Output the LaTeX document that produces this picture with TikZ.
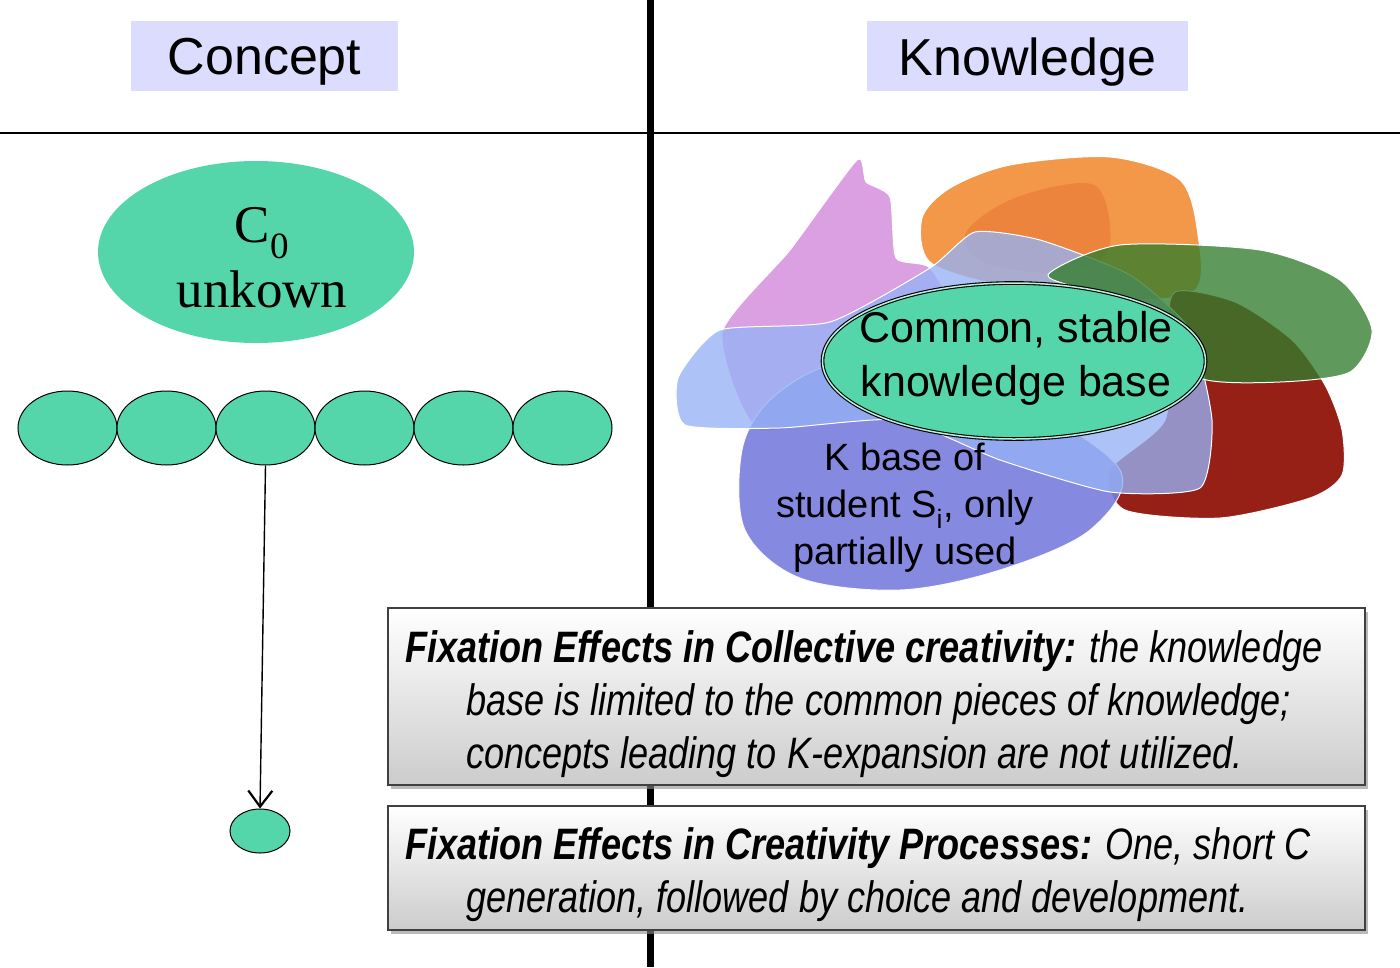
\documentclass[tikz,border=0pt]{standalone}
\usepackage{fontspec}
\setmainfont{Liberation Sans}
\newfontfamily\serifC{Liberation Serif}
\newfontfamily\narrowfont[FakeStretch=0.82]{Liberation Sans}
\usetikzlibrary{shapes.geometric,shadows,arrows.meta}
\definecolor{teal}{RGB}{85,214,170}
\definecolor{lav}{RGB}{220,220,255}
\definecolor{pinkb}{RGB}{218,160,225}
\definecolor{orangeb}{RGB}{242,152,72}
\definecolor{orangec}{RGB}{236,132,62}
\definecolor{blueb}{RGB}{150,178,245}
\definecolor{purpb}{RGB}{120,125,220}
\definecolor{greenb}{RGB}{50,125,45}
\definecolor{redb}{RGB}{150,32,22}
\tikzset{
  hdr/.style={fill=lav, minimum width=267pt, minimum height=70pt, inner sep=0pt},
  hdrtext/.style={inner sep=0pt, font=\fontsize{52}{60}\selectfont},
  cell/.style={ellipse, fill=teal, draw=black, line width=1pt, minimum width=99pt, minimum height=74pt, inner sep=0pt},
  blob/.style={draw=white, line width=1pt},
  fxbox/.style={draw=black!75, line width=1.2pt, top color=white, bottom color=black!20, inner sep=0pt,
    drop shadow={shadow xshift=3pt, shadow yshift=-4pt, fill=black!45, opacity=0.6}},
  fxtext/.style={align=left, inner sep=0pt, font=\narrowfont\itshape\fontsize{44}{53}\selectfont, anchor=north west}
}
\begin{document}
\begin{tikzpicture}[x=1pt,y=-1pt]
\useasboundingbox (0,0) rectangle (1400,967);
\fill[white] (0,0) rectangle (1400,967);
% dividers
\draw[line width=1.8pt] (0,133) -- (1400,133);
\draw[line width=7pt] (650,0) -- (650,967);
% headers
\node[hdr] (hc) at (264.5,56) {};
\node[hdrtext] (hct) at (264.5,62) {Concept};
\node[hdr, minimum width=321pt] (hk) at (1027.5,56) {};
\node[hdrtext] (hkt) at (1027.5,62) {Knowledge};
% concept side
\node[ellipse, fill=teal, minimum width=316pt, minimum height=182pt, inner sep=0pt] (c0) at (256,252) {};
\node[align=center, inner sep=0pt, font=\serifC\fontsize{53}{64}\selectfont] (c0t) at (262,258) {C\textsubscript{0}\\[1pt]unkown};
\foreach \i/\x in {1/67.5,2/166.5,3/265.5,4/364.5,5/463.5,6/562.5}{
  \node[cell] (e\i) at (\x,428) {};
}
\node[ellipse, fill=teal, draw=black, line width=1pt, minimum width=60pt, minimum height=44pt, inner sep=0pt] (last) at (260,831) {};
\draw[line width=1.4pt, -{Straight Barb[length=16pt,width=24pt,line width=2.2pt]}] (e3.south) -- (last.north);
% knowledge blobs
\fill[pinkb, blob] plot[smooth cycle, tension=0.35] coordinates {(857,160) (866,182) (890,197) (896,258) (930,268) (960,330) (900,400) (760,430) (722,333) (790,250)};
\fill[orangeb, blob] plot[smooth cycle, tension=0.5] coordinates {(922,218) (950,188) (1010,165) (1110,157) (1180,180) (1198,235) (1195,290) (1120,300) (1000,285) (930,262)};
\fill[orangec] plot[smooth cycle, tension=0.6] coordinates {(965,235) (1010,200) (1080,183) (1104,198) (1108,250) (1070,272) (990,265)};
\fill[redb, blob] plot[smooth cycle, tension=0.45] coordinates {(1175,292) (1235,302) (1292,340) (1325,385) (1342,430) (1342,475) (1310,498) (1220,518) (1125,510) (1110,470) (1165,420) (1168,340)};
\fill[purpb, blob, opacity=0.9] plot[smooth cycle, tension=0.55] coordinates {(742,450) (770,400) (830,365) (920,360) (1020,400) (1120,470) (1090,530) (1000,570) (900,590) (800,578) (745,530)};
\fill[blueb, blob, fill opacity=0.78] plot[smooth cycle, tension=0.35] coordinates {(678,378) (720,330) (830,322) (930,268) (975,232) (1040,240) (1130,275) (1190,330) (1212,420) (1200,488) (1110,492) (1000,460) (900,420) (780,428) (685,425)};
\fill[greenb, blob, fill opacity=0.78] plot[smooth cycle, tension=0.45] coordinates {(1048,275) (1120,245) (1260,250) (1340,280) (1372,330) (1350,372) (1280,382) (1200,378) (1160,330) (1100,295)};
\node[ellipse, fill=teal, draw=black, line width=1.1pt, double=teal!40!white, double distance=1.5pt,
  minimum width=383pt, minimum height=156pt, inner sep=0pt] (ckb) at (1014,361) {};
\node[align=center, inner sep=0pt, font=\fontsize{43}{54}\selectfont] (ckbt) at (1016,358) {Common, stable\\knowledge base};
\node[align=center, inner sep=0pt, font=\fontsize{38}{47}\selectfont] (kbs) at (905,508) {K base of\\student S\textsubscript{i}, only\\partially used};
% fixation boxes
\node[fxbox, minimum width=977pt, minimum height=177pt] (box1) at (876.5,696.5) {};
\node[fxbox, minimum width=977pt, minimum height=124pt] (box2) at (876.5,868) {};
\node[fxtext] (t1) at (405,630) {\textbf{Fixation Effects in Collective creativity:} the knowledge\\
\hspace*{61pt}base is limited to the common pieces of knowledge;\\
\hspace*{61pt}concepts leading to K-expansion are not utilized.};
\node[fxtext] (t2) at (405,827) {\textbf{Fixation Effects in Creativity Processes:} One, short C\\
\hspace*{61pt}generation, followed by choice and development.};
\end{tikzpicture}
\end{document}
